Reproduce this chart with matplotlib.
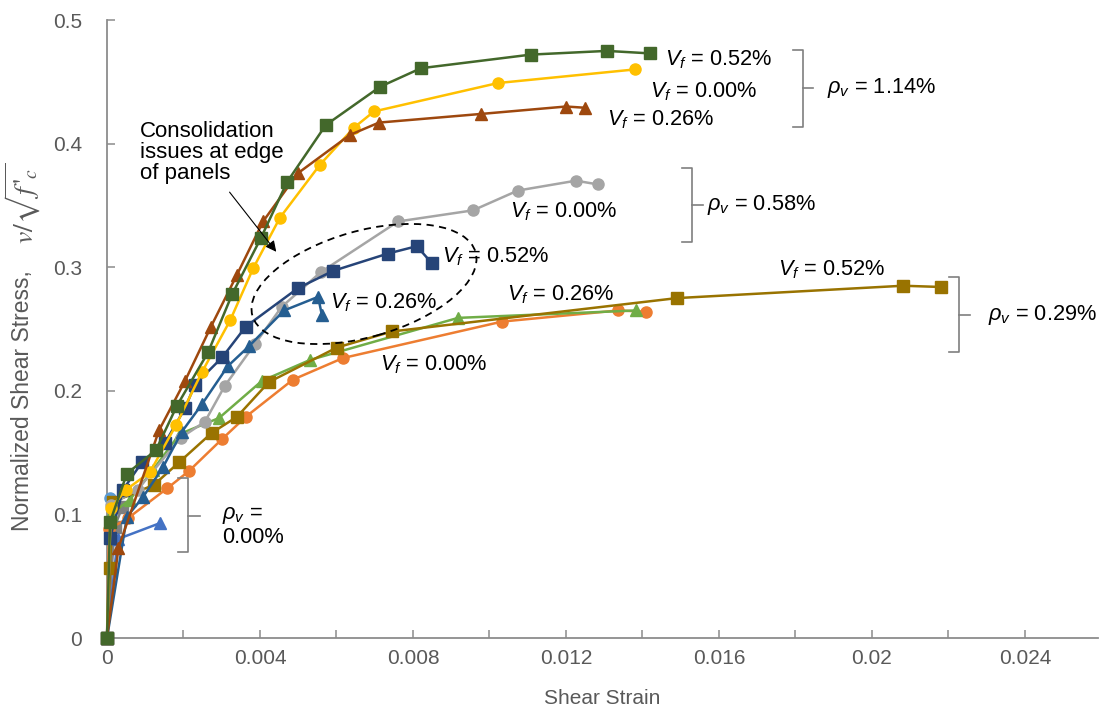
import matplotlib
matplotlib.use('Agg')
import matplotlib.pyplot as plt
from matplotlib.patches import Ellipse
import matplotlib.transforms as mtransforms
from matplotlib.ticker import FixedLocator, FixedFormatter

plt.rcParams['font.family'] = ['Liberation Sans', 'DejaVu Sans']
plt.rcParams['mathtext.fontset'] = 'custom'
plt.rcParams['mathtext.rm'] = 'Liberation Sans'
plt.rcParams['mathtext.it'] = 'Liberation Sans:italic'
plt.rcParams['mathtext.bf'] = 'Liberation Sans:bold'

# ---------------- data ----------------
# rho_v = 1.14 %
green_x = [0, 0.00008, 0.00052, 0.00128, 0.00183, 0.00264, 0.00327, 0.00403, 0.00471, 0.00572, 0.00714, 0.00821, 0.01108, 0.01307, 0.01419]
green_y = [0, 0.094, 0.133, 0.152, 0.188, 0.231, 0.278, 0.324, 0.369, 0.415, 0.446, 0.461, 0.472, 0.475, 0.473]
yellow_x = [0, 0.0001, 0.0005, 0.00112, 0.0018, 0.00248, 0.00322, 0.00382, 0.00452, 0.00557, 0.00646, 0.00698, 0.01022, 0.01380]
yellow_y = [0, 0.105, 0.12, 0.134, 0.172, 0.215, 0.257, 0.299, 0.340, 0.383, 0.413, 0.426, 0.449, 0.460]
brown_x = [0, 0.0003, 0.00136, 0.00204, 0.00272, 0.00340, 0.00408, 0.00499, 0.00635, 0.00711, 0.00978, 0.01200, 0.01250]
brown_y = [0, 0.073, 0.168, 0.208, 0.252, 0.294, 0.337, 0.376, 0.407, 0.417, 0.424, 0.430, 0.429]
# rho_v = 0.58 %
gray_x = [0, 0.0001, 0.0008, 0.00193, 0.00256, 0.00308, 0.00387, 0.00457, 0.00559, 0.00761, 0.00957, 0.01074, 0.01226, 0.01283]
gray_y = [0, 0.108, 0.12, 0.162, 0.175, 0.204, 0.238, 0.268, 0.296, 0.337, 0.346, 0.362, 0.370, 0.367]
navy_x = [0, 0.00008, 0.00042, 0.00091, 0.00152, 0.00204, 0.00230, 0.00301, 0.00363, 0.00499, 0.00591, 0.00734, 0.00810, 0.00850]
navy_y = [0, 0.081, 0.120, 0.142, 0.158, 0.186, 0.205, 0.227, 0.252, 0.283, 0.297, 0.311, 0.317, 0.303]
steel_x = [0, 0.00052, 0.00094, 0.00146, 0.00196, 0.00248, 0.00316, 0.00371, 0.00463, 0.00552, 0.00562]
steel_y = [0, 0.098, 0.114, 0.138, 0.167, 0.189, 0.220, 0.236, 0.265, 0.276, 0.261]
# rho_v = 0.29 %
orange_x = [0, 0.00005, 0.00055, 0.00157, 0.00214, 0.00301, 0.00363, 0.00486, 0.00617, 0.01033, 0.01336, 0.01409]
orange_y = [0, 0.088, 0.097, 0.121, 0.135, 0.161, 0.179, 0.209, 0.2265, 0.256, 0.265, 0.264]
lgreen_x = [0, 0.0001, 0.0006, 0.0012, 0.0019, 0.00293, 0.00405, 0.00531, 0.00918, 0.01383]
lgreen_y = [0, 0.100, 0.112, 0.136, 0.165, 0.178, 0.208, 0.225, 0.259, 0.265]
gold_x = [0, 0.00008, 0.00016, 0.00123, 0.00188, 0.00274, 0.00340, 0.00423, 0.00601, 0.00745, 0.01490, 0.02081, 0.02180]
gold_y = [0, 0.057, 0.110, 0.124, 0.142, 0.166, 0.179, 0.207, 0.235, 0.248, 0.275, 0.285, 0.284]
# rho_v = 0.00 %
lbcirc_x = [0, 0.00008]
lbcirc_y = [0, 0.113]
dgray_x = [0, 0.0002, 0.0004]
dgray_y = [0, 0.090, 0.106]
bluetri_x = [0, 0.00028, 0.00139]
bluetri_y = [0, 0.080, 0.093]

x_ticks = [0, 0.004, 0.008, 0.012, 0.016, 0.020, 0.024]
x_ticklabels = ['0', '0.004', '0.008', '0.012', '0.016', '0.02', '0.024']
x_minor = [0.002, 0.006, 0.010, 0.014, 0.018, 0.022]
y_ticks = [0, 0.1, 0.2, 0.3, 0.4, 0.5]
y_ticklabels = ['0', '0.1', '0.2', '0.3', '0.4', '0.5']

# ---------------- figure ----------------
W, H = 1100, 713
fig = plt.figure(figsize=(W / 100, H / 100), dpi=100)
ax = fig.add_axes([107 / W, 1 - 638 / H, (1098 - 107) / W, (638 - 20) / H])
pix = mtransforms.Affine2D().scale(1 / W, 1 / H) + fig.transFigure

series = [
    (lbcirc_x, lbcirc_y, '#5B9BD5', 'o'),
    (dgray_x, dgray_y, '#7F7F7F', 's'),
    (bluetri_x, bluetri_y, '#4472C4', '^'),
    (orange_x, orange_y, '#ED7D31', 'o'),
    (lgreen_x, lgreen_y, '#70AD47', '^'),
    (gold_x, gold_y, '#997300', 's'),
    (gray_x, gray_y, '#A5A5A5', 'o'),
    (steel_x, steel_y, '#255E91', '^'),
    (navy_x, navy_y, '#264478', 's'),
    (yellow_x, yellow_y, '#FFC000', 'o'),
    (brown_x, brown_y, '#9E480E', '^'),
    (green_x, green_y, '#43682B', 's'),
]
for xs, ys, c, m in series:
    ax.plot(xs, ys, color=c, lw=1.8, marker=m, ms=8, mec=c, mfc=c, clip_on=False, zorder=3)

ax.set_xlim(0, 0.02591)
ax.set_ylim(0, 0.5)
ax.xaxis.set_major_locator(FixedLocator(x_ticks))
ax.xaxis.set_major_formatter(FixedFormatter(x_ticklabels))
ax.xaxis.set_minor_locator(FixedLocator(x_minor))
ax.yaxis.set_major_locator(FixedLocator(y_ticks))
ax.yaxis.set_major_formatter(FixedFormatter(y_ticklabels))

axc = '#8C8C8C'
for s in ['top', 'right']:
    ax.spines[s].set_visible(False)
for s in ['left', 'bottom']:
    ax.spines[s].set_color(axc)
    ax.spines[s].set_linewidth(1.3)
ax.tick_params(axis='both', which='both', direction='in', length=6, width=1.1, color=axc,
               labelcolor='#595959', labelsize=15)
ax.tick_params(axis='x', which='major', pad=8)
ax.tick_params(axis='y', which='major', pad=18)

ax.set_xlabel('Shear Strain', fontsize=15, color='#595959')
ax.xaxis.set_label_coords(0.5, -0.083)

# y label: sans part + math part (serif italic)
fig.text(23, H - 401, 'Normalized Shear Stress,', transform=pix, rotation=90, fontsize=16.5,
         color='#595959', ha='center', va='center')
fig.text(23, H - 203, "$v/\\sqrt{f\\,'_{c}}$", transform=pix, rotation=90, fontsize=20,
         color='#595959', ha='center', va='center', math_fontfamily='stix')

# ---------------- annotations ----------------
fs = 15.7
def lab(x, y, s):
    ax.text(x, y, s, fontsize=fs, ha='left', va='center', color='black', zorder=5)

lab(0.01459, 0.4676, '$V_f$ = 0.52%')
lab(0.01420, 0.4417, '$V_f$ = 0.00%')
lab(0.01307, 0.4191, '$V_f$ = 0.26%')
lab(0.01883, 0.4450, '$\\rho_v$ = 1.14%')
lab(0.01054, 0.3447, '$V_f$ = 0.00%')
lab(0.01569, 0.3503, '$\\rho_v$ = 0.58%')
lab(0.00876, 0.3083, '$V_f$ = 0.52%')
lab(0.00583, 0.2710, '$V_f$ = 0.26%')
lab(0.01046, 0.2775, '$V_f$ = 0.26%')
lab(0.00714, 0.2209, '$V_f$ = 0.00%')
lab(0.01754, 0.2977, '$V_f$ = 0.52%')
lab(0.02303, 0.2613, '$\\rho_v$ = 0.29%')
lab(0.00301, 0.0995, '$\\rho_v$ =')
lab(0.00301, 0.0817, '0.00%')

def brace(x0, x1, x2, ytop, ybot, ymid):
    bc = '#7F7F7F'
    ax.plot([x0, x1, x1, x0], [ytop, ytop, ybot, ybot], color=bc, lw=1.2, clip_on=False, zorder=4)
    ax.plot([x1, x2], [ymid, ymid], color=bc, lw=1.2, clip_on=False, zorder=4)

brace(0.01794, 0.01820, 0.01846, 0.4757, 0.4134, 0.4450)
brace(0.01503, 0.01530, 0.01558, 0.3803, 0.3204, 0.3503)
brace(0.02201, 0.02228, 0.02256, 0.2921, 0.2314, 0.2613)
brace(0.00186, 0.00212, 0.00243, 0.1294, 0.0696, 0.0987)

ax.text(0.00086, 0.4185, 'Consolidation\nissues at edge\nof panels', fontsize=16,
        ha='left', va='top', linespacing=1.02, color='black', zorder=5)
ax.annotate('', xy=(0.00447, 0.3107), xytext=(0.00316, 0.3625),
            arrowprops=dict(arrowstyle='-|>', color='black', lw=0.8, mutation_scale=16), zorder=5)

ell = Ellipse((364, H - 284), 232, 106, angle=15.9, fill=False, ls=(0, (4, 3)), lw=1.3,
              ec='black', transform=pix, zorder=4)
fig.add_artist(ell)

fig.savefig('out.png', dpi=100)
